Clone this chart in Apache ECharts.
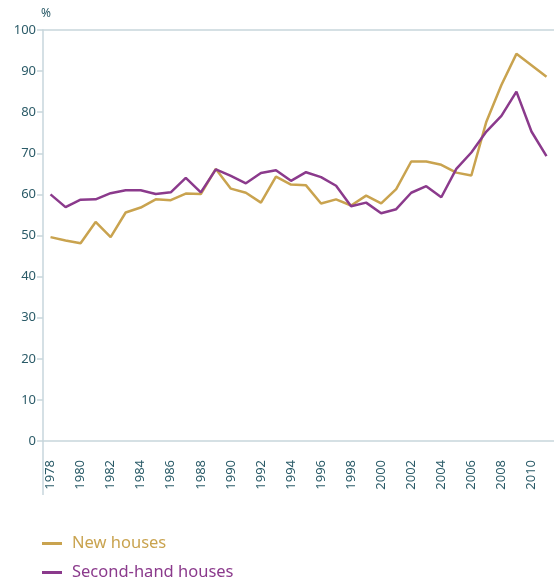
<!DOCTYPE html>
<html>
<head>
<meta charset="utf-8">
<script src="https://cdn.jsdelivr.net/npm/echarts@6/dist/echarts.min.js"></script>
<style>
  html, body { margin: 0; padding: 0; background: #fff; }
  #chart { width: 554px; height: 579px; }
</style>
</head>
<body>
<div id="chart"></div>
<script>
const years = [
  '1978', '1979', '1980', '1981', '1982', '1983', '1984', '1985', '1986', '1987',
  '1988', '1989', '1990', '1991', '1992', '1993', '1994', '1995', '1996', '1997',
  '1998', '1999', '2000', '2001', '2002', '2003', '2004', '2005', '2006', '2007',
  '2008', '2009', '2010', '2011'
]
const newHouses = [
  49.6, 48.8, 48.1, 53.3, 49.6, 55.6, 56.8, 58.8, 58.6, 60.2,
  60.1, 66.2, 61.4, 60.4, 58.0, 64.3, 62.4, 62.2, 57.8, 58.8,
  57.3, 59.7, 57.8, 61.3, 68.0, 68.0, 67.2, 65.3, 64.6, 77.7,
  86.6, 94.2, 91.4, 88.6
]
const secondHand = [
  60.0, 56.9, 58.7, 58.8, 60.3, 61.0, 61.0, 60.1, 60.5, 64.0,
  60.5, 66.1, 64.5, 62.7, 65.2, 65.9, 63.3, 65.4, 64.2, 62.1,
  57.1, 58.0, 55.4, 56.4, 60.4, 62.0, 59.3, 66.2, 70.2, 75.3,
  79.1, 85.0, 75.3, 69.3
]

const gold = '#c9a34f'
const purple = '#8b3a8c'
const axisColor = '#c7d6dc'
const labelColor = '#2b5b68'
const font = 'Noto Sans'

// one legend per item so they stack without wrapping into columns
function legendItem(name, color, top) {
  return {
    orient: 'vertical',
    left: 42,
    top: top,
    itemWidth: 20,
    itemHeight: 3,
    itemGap: 0,
    icon: 'rect',
    padding: 0,
    textStyle: { fontFamily: font, fontSize: 16.5, color: color, padding: [0, 0, 0, 5] },
    data: [name]
  }
}

const myChart = echarts.init(document.getElementById('chart'))
const option = {
  animation: false,
  grid: { left: 43, right: 0, top: 30, bottom: 138 },
  legend: [
    legendItem('New houses', gold, 535),
    legendItem('Second-hand houses', purple, 564)
  ],
  xAxis: [
    {
      type: 'category',
      data: years,
      boundaryGap: true,
      axisLine: { lineStyle: { color: axisColor, width: 1.5 } },
      axisTick: { interval: 0, length: 6, lineStyle: { color: axisColor, width: 1.5 } },
      axisLabel: {
        interval: 1,
        rotate: 90,
        margin: 19,
        color: labelColor,
        fontFamily: font,
        fontSize: 13
      }
    },
    {
      type: 'category',
      data: years,
      position: 'top',
      axisLine: { show: true, lineStyle: { color: axisColor, width: 1.5 } },
      axisTick: { show: false },
      axisLabel: { show: false }
    }
  ],
  yAxis: {
    type: 'value',
    min: 0,
    max: 100,
    interval: 10,
    name: '%',
    nameGap: 10,
    nameTextStyle: { color: labelColor, fontFamily: font, fontSize: 12, padding: [0, 0, 0, 6] },
    axisLine: { show: true, lineStyle: { color: axisColor, width: 1.5 } },
    axisTick: { show: true, length: 6, lineStyle: { color: axisColor, width: 1.5 } },
    splitLine: { show: false },
    axisLabel: { margin: 7, color: labelColor, fontFamily: font, fontSize: 13 }
  },
  graphic: [
    {
      type: 'line',
      shape: { x1: 43, y1: 441, x2: 43, y2: 495 },
      style: { stroke: axisColor, lineWidth: 1.5 }
    }
  ],
  series: [
    {
      name: 'New houses',
      type: 'line',
      data: newHouses,
      symbol: 'none',
      lineStyle: { color: gold, width: 2.5 },
      itemStyle: { color: gold }
    },
    {
      name: 'Second-hand houses',
      type: 'line',
      data: secondHand,
      symbol: 'none',
      lineStyle: { color: purple, width: 2.5 },
      itemStyle: { color: purple }
    }
  ]
}
myChart.setOption(option)
</script>
</body>
</html>
